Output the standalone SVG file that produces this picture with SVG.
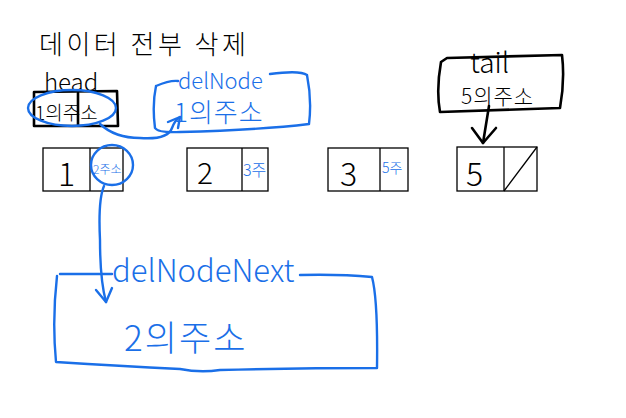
<svg xmlns="http://www.w3.org/2000/svg" width="626" height="418" viewBox="0 0 626 418">
<style>
.blk{fill:none;stroke:#000;stroke-width:1.3}
.ink{fill:none;stroke:#000;stroke-width:2.6;stroke-linecap:round;stroke-linejoin:round}
.blu{fill:none;stroke:#1a6fe8;stroke-width:2.4;stroke-linecap:round;stroke-linejoin:round}
.tb{font-family:"Noto Sans CJK KR","Noto Sans",sans-serif;fill:#000;font-weight:300}
.tu{font-family:"Noto Sans CJK KR","Noto Sans",sans-serif;fill:#1a6fe8;font-weight:300}
</style>
<rect width="626" height="418" fill="#fff"/>
<g id="title"><text class="tb" x="39" y="54" font-size="26" letter-spacing="3.5">데이터 전부 삭제</text></g>
<g id="head">
<text class="tb" x="44" y="91" font-size="24">head</text>
<path class="ink" d="M34 92 L117 91 L118 126 L34 126 Z" stroke-width="2.2"/>
<path class="ink" d="M78 93 L78 125" stroke-width="1.6"/>
<text class="tb" x="35" y="120" font-size="19">1의주소</text>
<ellipse class="blu" cx="72" cy="108" rx="44" ry="18"/>
</g>
<g id="delNode">
<path class="blu" d="M156 86 Q170 80 178 81 M270 74 Q300 70 307 75 Q312 100 309 124 Q260 130 180 132 Q158 133 155 128 Q152 105 156 86"/>
<text class="tu" x="178" y="89" font-size="22">delNode</text>
<text class="tu" x="174" y="122" font-size="26" letter-spacing="1">1의주소</text>
</g>
<g id="tail">
<path class="ink" d="M447 58 L562 55 Q565 80 560 108 L440 112 Q436 90 441 62 Z" stroke-width="2.8"/>
<text class="tb" x="470" y="73" font-size="28">tail</text>
<text class="tb" x="461" y="104" font-size="21" letter-spacing="1">5의주소</text>
</g>
<g id="node1">
<rect class="blk" x="43" y="148" width="80" height="43"/>
<line class="blk" x1="90" y1="148" x2="90" y2="191"/>
<text class="tb" x="58" y="186" font-size="32">1</text>
<text class="tu" x="93" y="174" font-size="12">2주소</text>
<ellipse class="blu" cx="112" cy="165" rx="21" ry="20"/>
</g>
<g id="node2">
<rect class="blk" x="187" y="148" width="81" height="43"/>
<line class="blk" x1="242" y1="148" x2="242" y2="191"/>
<text class="tb" x="197" y="184" font-size="30">2</text>
<text class="tu" x="243" y="176" font-size="16">3주</text>
</g>
<g id="node3">
<rect class="blk" x="328" y="148" width="80" height="43"/>
<line class="blk" x1="380" y1="148" x2="380" y2="191"/>
<text class="tb" x="340" y="186" font-size="32">3</text>
<text class="tu" x="382" y="173" font-size="14">5주</text>
</g>
<g id="node5">
<rect class="blk" x="457" y="147" width="80" height="44"/>
<line class="blk" x1="504" y1="147" x2="504" y2="191"/>
<line class="blk" x1="504" y1="191" x2="537" y2="147"/>
<text class="tb" x="466" y="186" font-size="32">5</text>
</g>
<g id="delNodeNext">
<path class="blu" d="M60 274 L112 274 M300 275 Q340 274 372 277 Q378 300 377 368 Q300 368 220 370 Q200 373 180 369 Q120 366 56 362 Q52 320 57 276"/>
<text class="tu" x="112" y="282" font-size="31">delNodeNext</text>
<text class="tu" x="124" y="351" font-size="35" letter-spacing="2">2의주소</text>
</g>
<g id="connectors">
<path class="blu" d="M100 124 Q115 138 140 138 Q168 140 172 128 Q175 120 180 117"/>
<path class="blu" d="M168 122 L180 117 L178 128"/>
<path class="blu" d="M104 186 Q98 200 100 240 Q100 280 106 302"/>
<path class="blu" d="M96 290 L106 302 L112 288"/>
<path class="ink" d="M489 106 Q486 125 483 143"/>
<path class="ink" d="M472 128 L483 143 L496 128"/>
</g>
</svg>
